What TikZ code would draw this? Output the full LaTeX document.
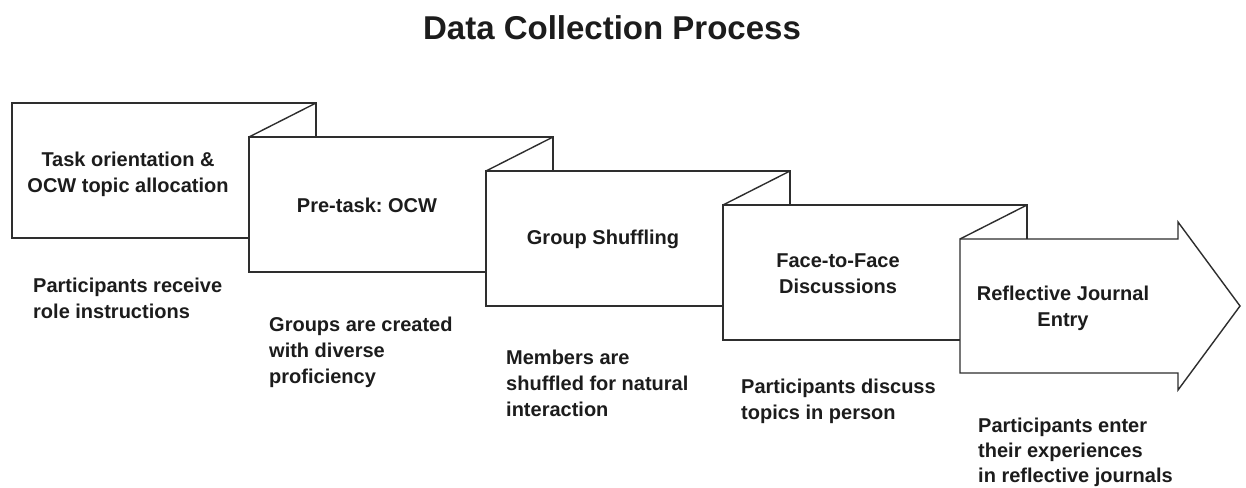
\documentclass[tikz,border=0pt]{standalone}
\usepackage{fontspec}
\setmainfont{Liberation Sans}
\frenchspacing
\definecolor{linec}{HTML}{2E2E2E}
\definecolor{textc}{HTML}{1C1C1C}
\begin{document}
\begin{tikzpicture}[x=1pt,y=-1pt,
  box/.style={draw=linec, line width=1.4pt, fill=white, line join=miter},
  fold/.style={draw=linec, line width=1.4pt},
  lbl/.style={font=\bfseries\fontsize{20}{26}\selectfont, align=center, text=textc, inner sep=0pt},
  desc/.style={font=\bfseries\fontsize{20}{26}\selectfont, align=left, anchor=base west, text=textc, inner sep=0pt},
  ttl/.style={font=\bfseries\fontsize{33}{36}\selectfont, text=textc, inner sep=0pt}]
\useasboundingbox[fill=white] (0,0) rectangle (1246,487);
\node[ttl] (title) at (612,28) {Data Collection Process};
% boxes
\path[box] (12,103) rectangle (316,238);
\path[box] (249,137) rectangle (553,272);
\draw[fold] (316,103) -- (249,137);
\path[box] (486,171) rectangle (790,306);
\draw[fold] (553,137) -- (486,171);
\path[box] (723,205) rectangle (1027,340);
\draw[fold] (790,171) -- (723,205);
\path[box] (960,239) -- (1178,239) -- (1178,222) -- (1240,306) -- (1178,390) -- (1178,373) -- (960,373) -- cycle;
\draw[fold] (1027,205) -- (960,239);
% labels
\node[lbl] (t1) at (128,174) {Task orientation \&\\OCW topic allocation};
\node[lbl] (t2) at (367,205) {Pre-task: OCW};
\node[lbl] (t3) at (603,239) {Group Shuffling};
\node[lbl] (t4) at (838,274) {Face-to-Face\\Discussions};
\node[lbl] (t5) at (1063,308) {Reflective Journal\\Entry};
% descriptions
\node[desc] (d1) at (33,318) {Participants receive\\role instructions};
\node[desc] (d2) at (269,383) {Groups are created\\with diverse\\proficiency};
\node[desc] (d3) at (506,416) {Members are\\shuffled for natural\\interaction};
\node[desc] (d4) at (741,419) {Participants discuss\\topics in person};
\node[desc, font=\bfseries\fontsize{20}{25}\selectfont] (d5) at (978,482) {Participants enter\\their experiences\\in reflective journals};
\end{tikzpicture}
\end{document}
